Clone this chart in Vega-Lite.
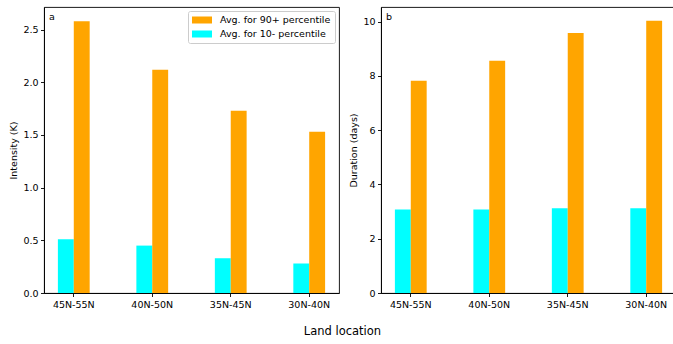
{
  "$schema": "https://vega.github.io/schema/vega-lite/v6.json",
  "padding": {"left": 8, "top": 6, "right": 0, "bottom": 0},
  "background": "white",
  "config": {
    "font": "DejaVu Sans",
    "view": {"stroke": "black", "strokeWidth": 0.9},
    "axis": {
      "domainColor": "black", "tickColor": "black", "labelColor": "black", "titleColor": "black",
      "labelFont": "DejaVu Sans", "titleFont": "DejaVu Sans", "labelFontSize": 9.5, "titleFontSize": 9.5,
      "titleFontWeight": "normal", "tickSize": 3.5, "grid": false, "labelPadding": 2.5,
      "domainWidth": 0.9, "tickWidth": 0.9, "titlePadding": 4
    },
    "legend": {"labelFont": "DejaVu Sans", "labelFontSize": 9.5, "labelColor": "black"}
  },
  "datasets": {
    "intensity": [
      {"location": "45N-55N", "series": "Avg. for 10- percentile", "value": 0.51},
      {"location": "45N-55N", "series": "Avg. for 90+ percentile", "value": 2.58},
      {"location": "40N-50N", "series": "Avg. for 10- percentile", "value": 0.45},
      {"location": "40N-50N", "series": "Avg. for 90+ percentile", "value": 2.12},
      {"location": "35N-45N", "series": "Avg. for 10- percentile", "value": 0.33},
      {"location": "35N-45N", "series": "Avg. for 90+ percentile", "value": 1.73},
      {"location": "30N-40N", "series": "Avg. for 10- percentile", "value": 0.28},
      {"location": "30N-40N", "series": "Avg. for 90+ percentile", "value": 1.53}
    ],
    "duration": [
      {"location": "45N-55N", "series": "Avg. for 10- percentile", "value": 3.08},
      {"location": "45N-55N", "series": "Avg. for 90+ percentile", "value": 7.82},
      {"location": "40N-50N", "series": "Avg. for 10- percentile", "value": 3.08},
      {"location": "40N-50N", "series": "Avg. for 90+ percentile", "value": 8.56},
      {"location": "35N-45N", "series": "Avg. for 10- percentile", "value": 3.12},
      {"location": "35N-45N", "series": "Avg. for 90+ percentile", "value": 9.58},
      {"location": "30N-40N", "series": "Avg. for 10- percentile", "value": 3.12},
      {"location": "30N-40N", "series": "Avg. for 90+ percentile", "value": 10.03}
    ]
  },
  "title": {"text": "Land location", "orient": "bottom", "anchor": "middle", "fontSize": 11.5, "fontWeight": "normal", "font": "DejaVu Sans", "color": "black", "offset": 17},
  "spacing": 8,
  "resolve": {"scale": {"color": "independent"}, "legend": {"color": "independent"}},
  "hconcat": [
    {
      "width": 295, "height": 286,
      "data": {"name": "intensity"},
      "title": {"text": "a", "anchor": "start", "frame": "group", "offset": -14, "dx": 5, "fontSize": 9.5, "fontWeight": "normal", "color": "black"},
      "mark": {"type": "bar"},
      "encoding": {
        "x": {"field": "location", "type": "nominal", "sort": ["45N-55N", "40N-50N", "35N-45N", "30N-40N"],
              "scale": {"paddingInner": 0.595, "paddingOuter": 0.177}, "axis": {"title": null, "labelAngle": 0}},
        "xOffset": {"field": "series", "type": "nominal", "scale": {"domain": ["Avg. for 10- percentile", "Avg. for 90+ percentile"], "paddingInner": 0, "paddingOuter": 0}},
        "y": {"field": "value", "type": "quantitative", "scale": {"domain": [0, 2.715], "nice": false},
              "axis": {"title": "Intensity (K)", "values": [0, 0.5, 1, 1.5, 2, 2.5], "format": ".1f"}},
        "color": {"field": "series", "type": "nominal",
                  "scale": {"domain": ["Avg. for 90+ percentile", "Avg. for 10- percentile"], "range": ["#FFA500", "#00FFFF"]},
                  "legend": {"title": null, "orient": "top-right", "offset": 4, "fillColor": "white", "strokeColor": "#cccccc", "cornerRadius": 2, "padding": 4,
                             "symbolType": "M-2,-0.7H2V0.7H-2Z", "symbolSize": 100, "symbolStrokeWidth": 0, "labelOffset": 13, "rowPadding": 4, "symbolOffset": 5}}
      }
    },
    {
      "width": 295, "height": 286,
      "data": {"name": "duration"},
      "title": {"text": "b", "anchor": "start", "frame": "group", "offset": -14, "dx": 5, "fontSize": 9.5, "fontWeight": "normal", "color": "black"},
      "mark": {"type": "bar"},
      "encoding": {
        "x": {"field": "location", "type": "nominal", "sort": ["45N-55N", "40N-50N", "35N-45N", "30N-40N"],
              "scale": {"paddingInner": 0.595, "paddingOuter": 0.177}, "axis": {"title": null, "labelAngle": 0}},
        "xOffset": {"field": "series", "type": "nominal", "scale": {"domain": ["Avg. for 10- percentile", "Avg. for 90+ percentile"], "paddingInner": 0, "paddingOuter": 0}},
        "y": {"field": "value", "type": "quantitative", "scale": {"domain": [0, 10.54], "nice": false},
              "axis": {"title": "Duration (days)", "values": [0, 2, 4, 6, 8, 10], "format": "d"}},
        "color": {"field": "series", "type": "nominal",
                  "scale": {"domain": ["Avg. for 90+ percentile", "Avg. for 10- percentile"], "range": ["#FFA500", "#00FFFF"]},
                  "legend": null}
      }
    }
  ]
}
